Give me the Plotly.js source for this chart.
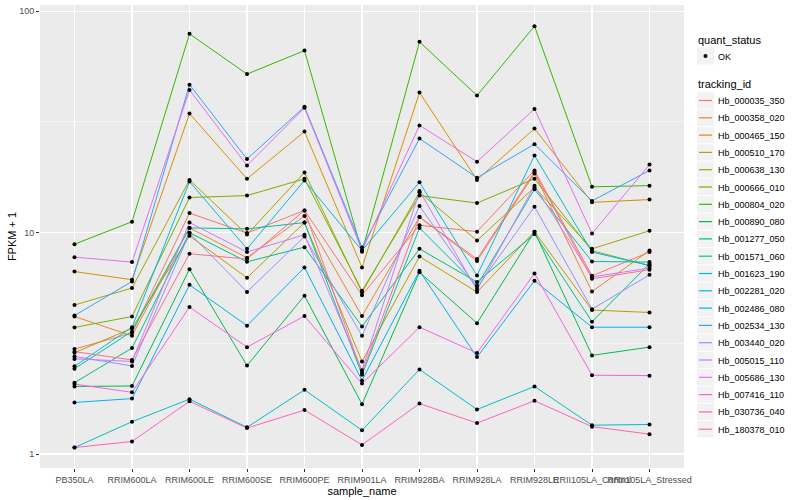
<!DOCTYPE html>
<html><head><meta charset="utf-8">
<script src="https://cdn.plot.ly/plotly-3.0.1.min.js"></script>
<style>html,body{margin:0;padding:0;background:#fff}#chart{width:800px;height:500px}</style>
</head><body><div id="chart"></div>
<script>
const samples = ["PB350LA","RRIM600LA","RRIM600LE","RRIM600SE","RRIM600PE","RRIM901LA","RRIM928BA","RRIM928LA","RRIM928LE","RRII105LA_Control","RRII105LA_Stressed"];
const trackingIds = ["Hb_000035_350","Hb_000358_020","Hb_000465_150","Hb_000510_170","Hb_000638_130","Hb_000666_010","Hb_000804_020","Hb_000890_080","Hb_001277_050","Hb_001571_060","Hb_001623_190","Hb_002281_020","Hb_002486_080","Hb_002534_130","Hb_003440_020","Hb_005015_110","Hb_005686_130","Hb_007416_110","Hb_030736_040","Hb_180378_010"];
const lineColors = ["#F8766D","#EA8331","#D89000","#C09B00","#A3A500","#7CAE00","#39B600","#00BB4E","#00BF7D","#00C1A3","#00BFC4","#00BAE0","#00B0F6","#35A2FF","#9590FF","#C77CFF","#E76BF3","#FA62DB","#FF62BC","#FF6C91"];
const quantStatus = ["OK"];

const hb_000035_350 = [2.98, 3.52, 12.25, 9.95, 12.6, 5.22, 10.8, 10.1, 19.1, 6.38, 8.17];
const hb_000358_020 = [4.18, 3.42, 10.5, 7.7, 11.9, 4.20, 11.75, 7.45, 18.5, 5.42, 8.30];
const hb_000465_150 = [6.67, 6.13, 34.5, 17.5, 28.6, 6.96, 42.9, 17.3, 29.5, 13.7, 14.1];
const hb_000510_170 = [2.87, 3.70, 9.67, 6.25, 11.1, 2.62, 7.8, 5.39, 10.1, 4.47, 4.36];
const hb_000638_130 = [4.71, 5.62, 17.3, 9.8, 18.7, 5.37, 15.2, 9.21, 16.0, 8.45, 10.2];
const hb_000666_010 = [3.73, 4.18, 14.4, 14.7, 17.5, 5.46, 14.7, 13.6, 17.5, 8.28, 7.1];
const hb_000804_020 = [8.87, 11.2, 79, 52, 66.4, 8.19, 72.7, 41.6, 85.6, 16.1, 16.3];
const hb_000890_080 = [2.02, 2.03, 6.84, 2.51, 5.19, 1.68, 6.62, 3.90, 10.1, 2.79, 3.04];
const hb_001277_050 = [2.10, 3.01, 10.0, 7.38, 8.6, 3.77, 8.45, 5.98, 9.85, 3.96, 7.24];
const hb_001571_060 = [2.43, 3.58, 10.5, 10.4, 11.1, 2.28, 10.5, 5.77, 15.7, 7.41, 7.36];
const hb_001623_190 = [1.07, 1.40, 1.77, 1.32, 1.95, 1.28, 2.41, 1.59, 2.02, 1.35, 1.36];
const hb_002281_020 = [2.49, 3.74, 17.0, 8.45, 17.2, 8.30, 16.9, 6.40, 22.3, 8.17, 7.1];
const hb_002486_080 = [1.71, 1.78, 5.81, 3.80, 6.96, 2.15, 6.72, 2.74, 6.06, 3.74, 3.74];
const hb_002534_130 = [4.22, 6.02, 46.6, 21.5, 37.0, 8.57, 26.6, 17.7, 25.1, 13.9, 19.1];
const hb_003440_020 = [2.76, 2.50, 9.95, 5.40, 9.6, 3.42, 13.2, 5.64, 13.1, 4.51, 6.45];
const hb_005015_110 = [2.69, 2.62, 11.1, 8.17, 9.78, 2.39, 15.4, 5.50, 16.3, 6.31, 6.92];
const hb_005686_130 = [7.75, 7.36, 44.1, 20.1, 36.6, 8.30, 30.5, 20.9, 36.2, 9.9, 20.3];
const hb_007416_110 = [2.07, 1.90, 4.61, 3.04, 4.20, 2.08, 3.74, 2.86, 6.54, 2.27, 2.26];
const hb_030736_040 = [1.07, 1.14, 1.73, 1.31, 1.58, 1.10, 1.69, 1.38, 1.74, 1.33, 1.23];
const hb_180378_010 = [2.90, 2.66, 8.03, 7.6, 12.6, 2.33, 11.75, 7.6, 18.8, 6.19, 6.80];

const seriesValues = [hb_000035_350, hb_000358_020, hb_000465_150, hb_000510_170, hb_000638_130, hb_000666_010, hb_000804_020, hb_000890_080, hb_001277_050, hb_001571_060, hb_001623_190, hb_002281_020, hb_002486_080, hb_002534_130, hb_003440_020, hb_005015_110, hb_005686_130, hb_007416_110, hb_030736_040, hb_180378_010];

const FONT = "Liberation Sans, Arial, Helvetica, sans-serif";
const W = 800, H = 500;
const M = { l: 40, r: 116, t: 5, b: 32 };
const PW = W - M.l - M.r, PH = H - M.t - M.b;
// pixel -> paper helpers (for the legend drawn beside the panel)
const fx = p => (p - M.l) / PW;
const fy = p => (H - M.b - p) / PH;

const traces = [];
const px = [], py = [];
seriesValues.forEach((vals, i) => {
  traces.push({
    type: 'scatter', mode: 'lines', x: samples, y: vals,
    name: trackingIds[i], showlegend: false,
    line: { color: lineColors[i], width: 1 }, hoverinfo: 'skip'
  });
  vals.forEach((v, j) => { px.push(samples[j]); py.push(v); });
});
traces.push({
  type: 'scatter', mode: 'markers', x: px, y: py, name: quantStatus[0], showlegend: false,
  marker: { color: 'black', size: 4 }, hoverinfo: 'skip'
});

// legend built beside the panel
const shapes = [], annotations = [];
const LX = 696, KEY = 17, STEP = 17.3;
annotations.push({ xref: 'paper', yref: 'paper', x: fx(LX), y: fy(40), xanchor: 'left', yanchor: 'middle',
  text: 'quant_status', showarrow: false, font: { family: FONT, size: 11, color: 'black' } });
shapes.push({ type: 'rect', xref: 'paper', yref: 'paper', x0: fx(LX + 1), x1: fx(LX + 1 + KEY), y0: fy(56 - KEY / 2), y1: fy(56 + KEY / 2),
  fillcolor: '#F2F2F2', line: { width: 0 } });
shapes.push({ type: 'circle', xref: 'paper', yref: 'paper', x0: fx(LX + 9.5 - 2), x1: fx(LX + 9.5 + 2), y0: fy(56 - 2), y1: fy(56 + 2),
  fillcolor: 'black', line: { width: 0 } });
annotations.push({ xref: 'paper', yref: 'paper', x: fx(LX + 20), y: fy(56.5), xanchor: 'left', yanchor: 'middle',
  text: quantStatus[0], showarrow: false, font: { family: FONT, size: 9, color: 'black' } });
annotations.push({ xref: 'paper', yref: 'paper', x: fx(LX), y: fy(84), xanchor: 'left', yanchor: 'middle',
  text: 'tracking_id', showarrow: false, font: { family: FONT, size: 11, color: 'black' } });
trackingIds.forEach((id, i) => {
  const cy = 100.5 + i * STEP;
  shapes.push({ type: 'rect', xref: 'paper', yref: 'paper', x0: fx(LX + 1), x1: fx(LX + 1 + KEY), y0: fy(cy - STEP / 2 + 0.5), y1: fy(cy + STEP / 2 - 0.5),
    fillcolor: '#F2F2F2', line: { width: 0 } });
  shapes.push({ type: 'line', xref: 'paper', yref: 'paper', x0: fx(LX + 3), x1: fx(LX + 16), y0: fy(cy), y1: fy(cy),
    line: { color: lineColors[i], width: 1.2 } });
  annotations.push({ xref: 'paper', yref: 'paper', x: fx(LX + 20), y: fy(cy + 0.5), xanchor: 'left', yanchor: 'middle',
    text: id, showarrow: false, font: { family: FONT, size: 9, color: 'black' } });
});

const layout = {
  width: W, height: H,
  margin: M,
  paper_bgcolor: 'white', plot_bgcolor: '#EBEBEB',
  font: { family: FONT, size: 9, color: '#4D4D4D' },
  showlegend: false,
  xaxis: {
    type: 'category', categoryorder: 'array', categoryarray: samples,
    range: [-0.6, 10.6], showgrid: true, gridcolor: 'white', gridwidth: 1.1,
    ticks: 'outside', ticklen: 3, tickcolor: '#333333', tickwidth: 1, tickangle: 0,
    zeroline: false, showline: false, automargin: false,
    tickfont: { family: FONT, size: 9, color: '#4D4D4D' },
    title: { text: 'sample_name', font: { family: FONT, size: 11, color: 'black' }, standoff: 0 }
  },
  yaxis: {
    type: 'log', range: [-0.063, 2.028],
    tickmode: 'array', tickvals: [1, 10, 100], ticktext: ['1', '10', '100'],
    showgrid: true, gridcolor: 'white', gridwidth: 1.1,
    ticks: 'outside', ticklen: 3, tickcolor: '#333333', tickwidth: 1,
    zeroline: false, showline: false, automargin: false,
    minor: { tickmode: 'array', tickvals: [3.1623, 31.623], showgrid: true, gridcolor: 'white', gridwidth: 0.5, ticks: '' },
    tickfont: { family: FONT, size: 9, color: '#4D4D4D' },
    title: { text: 'FPKM + 1', font: { family: FONT, size: 11, color: 'black' }, standoff: 0 }
  },
  shapes: shapes,
  annotations: annotations
};

Plotly.newPlot('chart', traces, layout, { displayModeBar: false, staticPlot: true });
</script>
</body></html>
